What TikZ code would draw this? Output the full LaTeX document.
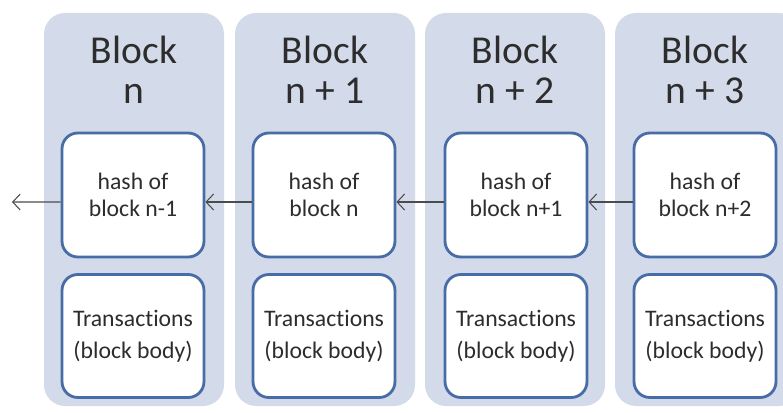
\documentclass[tikz,border=0pt]{standalone}
\usepackage{fontspec}
\setmainfont{Carlito}[Ligatures=NoCommon]
\usetikzlibrary{arrows.meta}
\definecolor{colgray}{RGB}{211,218,233}
\definecolor{boxblue}{RGB}{72,108,166}
\definecolor{txtgray}{RGB}{45,45,45}

\begin{document}
\begin{tikzpicture}[x=0.02cm,y=-0.02cm,
  column/.style={fill=colgray,rounded corners=12},
  title/.style={align=center,text=txtgray,font=\fontsize{22.5}{23}\selectfont},
  hashbox/.style={draw=boxblue,line width=1.6pt,fill=white,rounded corners=9,minimum width=2.84cm,minimum height=2.48cm,align=center,text=txtgray,font=\fontsize{13.5}{15}\selectfont},
  bodybox/.style={hashbox,minimum height=2.46cm,font=\fontsize{13.5}{18}\selectfont},
  link/.style={-{Straight Barb[length=1.5mm,width=3.2mm]},draw=black!70,line width=0.6pt}]

\useasboundingbox (0,0) rectangle (783,412);

% the four blocks
\fill[column] (44,13) rectangle (224,406);
\fill[column] (235,13) rectangle (415,406);
\fill[column] (425,13) rectangle (605,406);
\fill[column] (615,13) rectangle (800,406);

\node[title] (t1) at (134,70) {Block\\n};
\node[title] (t2) at (325,70) {Block\\n + 1};
\node[title] (t3) at (515,70) {Block\\n + 2};
\node[title] (t4) at (705,70) {Block\\n + 3};

\node[hashbox] (h1) at (133,195) {hash of\\block n-1};
\node[hashbox] (h2) at (324,195) {hash of\\block n};
\node[hashbox] (h3) at (516,195) {hash of\\block n+1};
\node[hashbox] (h4) at (705,195) {hash of\\block n+2};

\node[bodybox] (b1) at (133,336) {Transactions\\(block body)};
\node[bodybox] (b2) at (324,336) {Transactions\\(block body)};
\node[bodybox] (b3) at (516,336) {Transactions\\(block body)};
\node[bodybox] (b4) at (705,336) {Transactions\\(block body)};

% links back to the previous block
\coordinate (prev) at (12,202);
\draw[link] ([yshift=-0.14cm]h1.west) -- (prev);
\draw[link] ([yshift=-0.14cm]h2.west) -- ([yshift=-0.14cm]h1.east);
\draw[link] ([yshift=-0.14cm]h3.west) -- ([yshift=-0.14cm]h2.east);
\draw[link] ([yshift=-0.14cm]h4.west) -- ([yshift=-0.14cm]h3.east);

\end{tikzpicture}
\end{document}
